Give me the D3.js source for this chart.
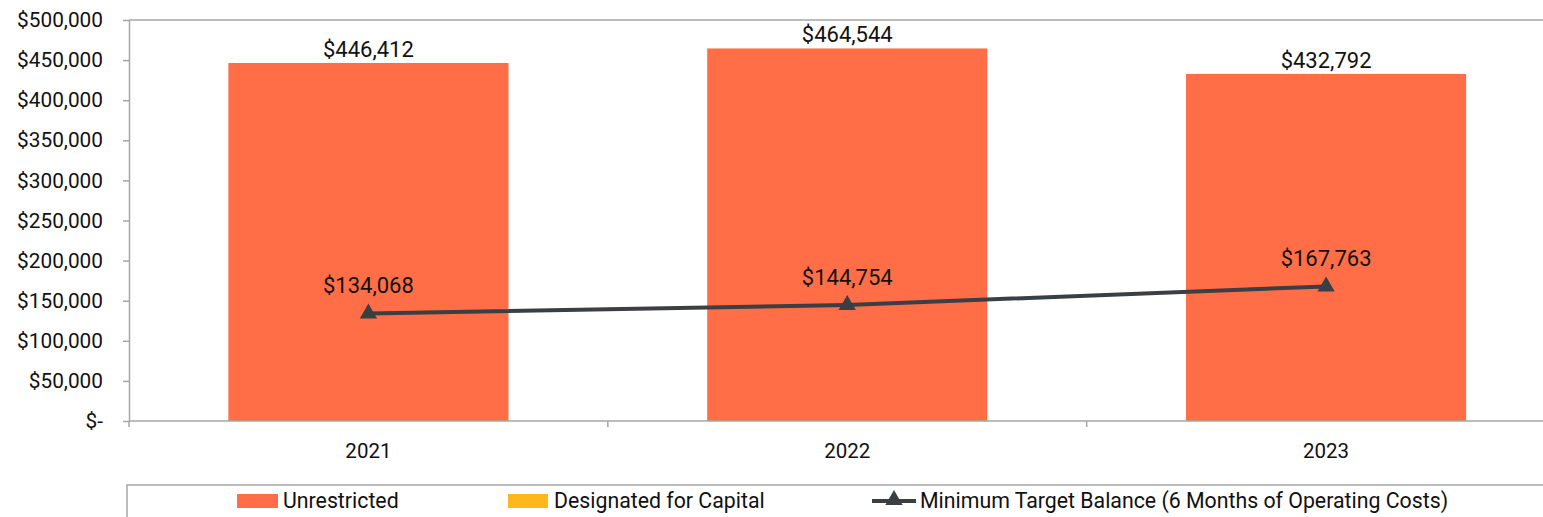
<!DOCTYPE html>
<html>
<head>
<meta charset="utf-8">
<script src="https://cdn.jsdelivr.net/npm/d3@7"></script>
<style>
  html, body { margin: 0; padding: 0; background: #fff; }
  svg { display: block; font-family: Roboto, "Noto Sans", sans-serif; }
</style>
</head>
<body>
<svg id="chart" width="1543" height="517"></svg>
<script>
// Reserve balances by fiscal year
const years = ["2021", "2022", "2023"];
const unrestricted = [446412, 464544, 432792];
const designatedForCapital = [0, 0, 0];
const minimumTarget = [134068, 144754, 167763];
const yTicks = [0, 50000, 100000, 150000, 200000, 250000, 300000, 350000, 400000, 450000, 500000];
const legendLabels = ["Unrestricted", "Designated for Capital", "Minimum Target Balance (6 Months of Operating Costs)"];

const colors = { bar: "#FF6E47", capital: "#FFB81C", line: "#3A3F44", axis: "#A6A6A6", text: "#111" };

const svg = d3.select("#chart");
const plot = { left: 129, right: 1565.5, top: 20, bottom: 421 };

const x = d3.scaleBand().domain(years).range([plot.left, plot.right]).paddingInner(0.415).paddingOuter(0.2075);
const y = d3.scaleLinear().domain([0, 500000]).range([plot.bottom, plot.top]);
const fmt = d3.format(",");
const money = v => v === 0 ? "$-" : "$" + fmt(v);

// top gridline at the maximum
svg.append("line")
  .attr("x1", plot.left).attr("x2", 1543)
  .attr("y1", y(500000)).attr("y2", y(500000))
  .attr("stroke", colors.axis).attr("stroke-width", 1.5);

// bars
svg.append("g").selectAll("rect").data(years).join("rect")
  .attr("x", d => x(d))
  .attr("width", x.bandwidth())
  .attr("y", (d, i) => y(unrestricted[i]))
  .attr("height", (d, i) => y(0) - y(unrestricted[i]))
  .attr("fill", colors.bar);

// y axis
const yAxis = svg.append("g").attr("transform", `translate(${plot.left},0)`)
  .call(d3.axisLeft(y).tickValues(yTicks).tickFormat(money).tickSizeInner(6).tickSizeOuter(0).tickPadding(20));
yAxis.select(".domain").attr("stroke", colors.axis).attr("stroke-width", 1.5);
yAxis.selectAll(".tick line").attr("stroke", colors.axis).attr("stroke-width", 1.5);
yAxis.selectAll(".tick text").attr("font-size", 20.8).attr("fill", colors.text).attr("font-family", "Roboto");

// x axis with ticks at category boundaries
const xAxisG = svg.append("g");
xAxisG.append("line")
  .attr("x1", plot.left).attr("x2", 1543)
  .attr("y1", y(0)).attr("y2", y(0))
  .attr("stroke", colors.axis).attr("stroke-width", 1.5);
const step = x.step();
const boundaries = d3.range(years.length + 1).map(i => plot.left + i * step);
xAxisG.selectAll("line.b").data(boundaries).join("line").attr("class", "b")
  .attr("x1", d => d).attr("x2", d => d)
  .attr("y1", y(0)).attr("y2", y(0) + 6)
  .attr("stroke", colors.axis).attr("stroke-width", 1.5);
xAxisG.selectAll("text").data(years).join("text")
  .attr("x", d => x(d) + x.bandwidth() / 2)
  .attr("y", 451)
  .attr("dy", "0.35em")
  .attr("text-anchor", "middle")
  .attr("font-size", 20.5).attr("fill", colors.text)
  .text(d => d);

// bar value labels
svg.append("g").selectAll("text").data(years).join("text")
  .attr("x", d => x(d) + x.bandwidth() / 2)
  .attr("y", (d, i) => y(unrestricted[i]) - 6)
  .attr("text-anchor", "middle")
  .attr("font-size", 22).attr("fill", colors.text)
  .text((d, i) => money(unrestricted[i]));

// minimum target line
const cx = d => x(d) + x.bandwidth() / 2;
const line = d3.line().x((d, i) => cx(years[i])).y(d => y(d));
svg.append("path").datum(minimumTarget)
  .attr("d", line)
  .attr("fill", "none").attr("stroke", colors.line).attr("stroke-width", 4);

const tri = d3.symbol().type(d3.symbolTriangle).size(130);
svg.append("g").selectAll("path").data(minimumTarget).join("path")
  .attr("transform", (d, i) => `translate(${cx(years[i])},${y(d)})`)
  .attr("d", tri)
  .attr("fill", colors.line);

svg.append("g").selectAll("text").data(minimumTarget).join("text")
  .attr("x", (d, i) => cx(years[i]))
  .attr("y", d => y(d) - 20)
  .attr("text-anchor", "middle")
  .attr("font-size", 22).attr("fill", colors.text)
  .text(d => money(d));

// legend
const legend = svg.append("g");
legend.append("path")
  .attr("d", "M127,517 V485 H1543")
  .attr("fill", "none").attr("stroke", colors.axis).attr("stroke-width", 1.5);
const lgY = 501;
legend.append("rect").attr("x", 237).attr("y", lgY - 7).attr("width", 41).attr("height", 14).attr("fill", colors.bar);
legend.append("text").attr("x", 283).attr("y", lgY).attr("dy", "0.35em").attr("font-size", 21.3).attr("fill", colors.text).text(legendLabels[0]);
legend.append("rect").attr("x", 508).attr("y", lgY - 7).attr("width", 40).attr("height", 14).attr("fill", colors.capital);
legend.append("text").attr("x", 554).attr("y", lgY).attr("dy", "0.35em").attr("font-size", 21.3).attr("fill", colors.text).text(legendLabels[1]);
legend.append("line").attr("x1", 872).attr("x2", 916).attr("y1", lgY).attr("y2", lgY).attr("stroke", colors.line).attr("stroke-width", 4);
legend.append("path").attr("transform", `translate(894,${lgY - 1})`).attr("d", tri).attr("fill", colors.line);
legend.append("text").attr("x", 920).attr("y", lgY).attr("dy", "0.35em").attr("font-size", 21.3).attr("fill", colors.text).text(legendLabels[2]);
</script>
</body>
</html>
